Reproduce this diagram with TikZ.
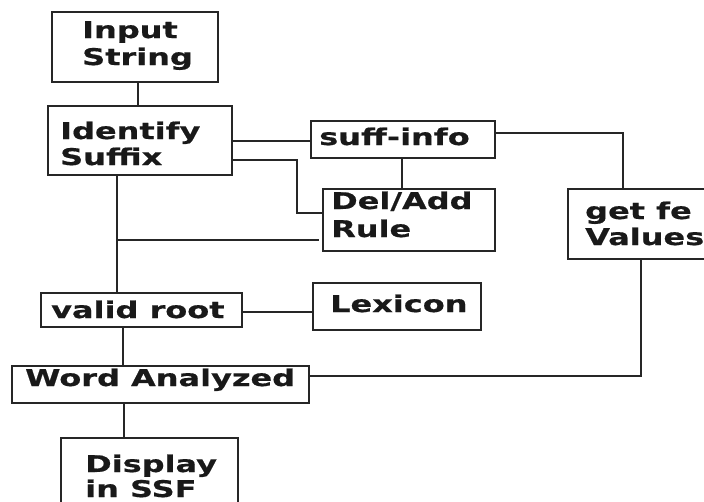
\documentclass[tikz,border=0pt]{standalone}
\usepackage{fontspec}
\newfontfamily\lblfont[FakeStretch=1.39,FakeBold=0.6]{DejaVu Sans Bold}
\begin{document}
\begin{tikzpicture}[x=1pt,y=-1pt,
  box/.style={draw=black!85, line width=1.3pt, rectangle, inner sep=0pt, outer sep=0pt},
  lbl/.style={anchor=base west, inner sep=0pt, align=left, text=black!90, font=\fontsize{23}{27}\lblfont},
  wire/.style={draw=black!85, line width=1.2pt}]
\useasboundingbox (0,0) rectangle (704,501);
\clip (0,0) rectangle (704,501);
\fill[white] (0,0) rectangle (704,501);

% boxes
\node[box, minimum width=166pt, minimum height=70pt] (inp)   at (135,47) {};
\node[box, minimum width=184pt, minimum height=69pt] (ident) at (140,140.5) {};
\node[box, minimum width=184pt, minimum height=37pt] (suff)  at (403,139.5) {};
\node[box, minimum width=172pt, minimum height=62pt] (del)   at (409,220) {};
\node[box, minimum width=152pt, minimum height=70pt] (getfe) at (644,224) {};
\node[box, minimum width=168pt, minimum height=47pt] (lex)   at (397,306.5) {};
\node[box, minimum width=201pt, minimum height=34pt] (valid) at (141.5,310) {};
\node[box, minimum width=297pt, minimum height=37pt] (word)  at (160.5,384.5) {};
\node[box, minimum width=177pt, minimum height=92pt] (disp)  at (149.5,484) {};

% texts (base = last line)
\node[lbl] (t-inp)   at (82,65)  {Input\\String};
\node[lbl] (t-ident) at (60,165) {Identify\\[-1pt]Suffix};
\node[lbl] (t-suff)  at (319,145) {suff-info};
\node[lbl] (t-del)   at (331,237) {Del/Add\\[1pt]Rule};
\node[lbl] (t-getfe) at (585,245) {get fe\\[-1pt]Values};
\node[lbl] (t-lex)   at (330,312) {Lexicon};
\node[lbl] (t-valid) at (51,318) {valid root};
\node[lbl] (t-word)  at (25,386) {Word Analyzed};
\node[lbl] (t-disp)  at (85,497) {Display\\[-2pt]in SSF};

% connector helpers
\coordinate (vIn) at (138,0);
\coordinate (hS)  at (0,141);
\coordinate (jA)  at (297,160);
\coordinate (jB)  at (297,213);
\coordinate (vS)  at (402,0);
\coordinate (vI)  at (117,0);
\coordinate (br)  at (117,240);
\coordinate (brE) at (319,240);
\coordinate (gT)  at (623,133);
\coordinate (hL)  at (0,312);
\coordinate (vV)  at (123,0);
\coordinate (vW)  at (124,0);
\coordinate (gB)  at (641,376);

% connectors
\draw[wire] (inp.south -| vIn) -- (ident.north -| vIn);
\draw[wire] (ident.east |- hS) -- (suff.west |- hS);
\draw[wire] (ident.east |- jA) -- (jA) -- (jB) -- (del.west |- jB);
\draw[wire] (suff.south -| vS) -- (del.north -| vS);
\draw[wire] (ident.south -| vI) -- (valid.north -| vI);
\draw[wire] (br) -- (brE);
\draw[wire] (suff.east |- gT) -- (gT) -- (getfe.north -| gT);
\draw[wire] (valid.east |- hL) -- (lex.west |- hL);
\draw[wire] (valid.south -| vV) -- (word.north -| vV);
\draw[wire] (word.south -| vW) -- (disp.north -| vW);
\draw[wire] (getfe.south -| gB) -- (gB) -- (word.east |- gB);
\end{tikzpicture}
\end{document}
